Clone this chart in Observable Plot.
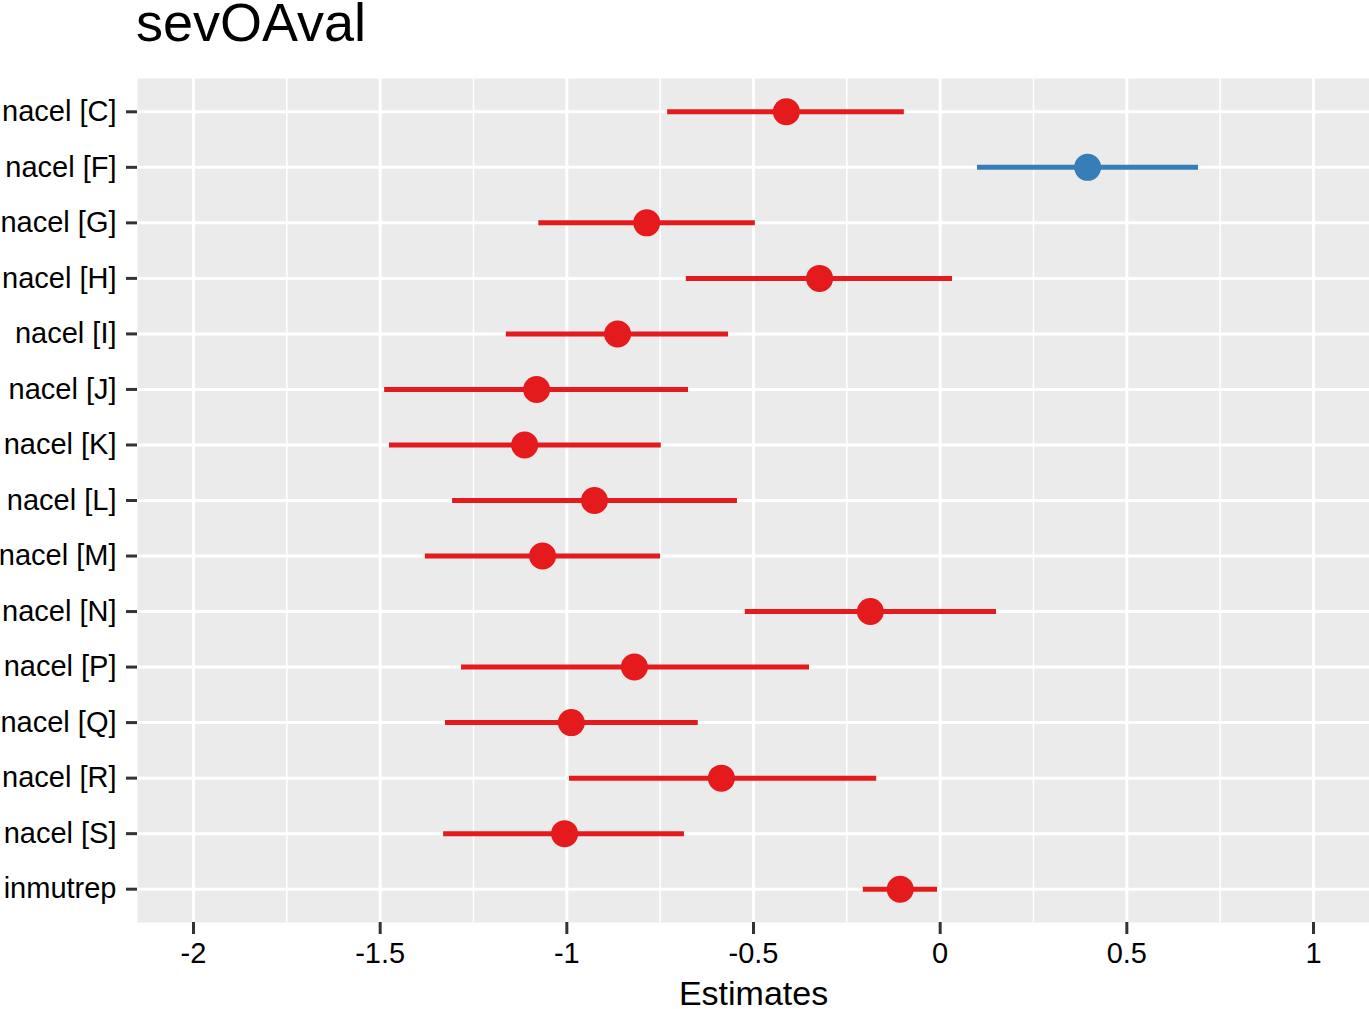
<!DOCTYPE html>
<html>
<head>
<meta charset="utf-8">
<script src="https://cdn.jsdelivr.net/npm/d3@7"></script>
<script src="https://cdn.jsdelivr.net/npm/@observablehq/plot@0.6"></script>
<style>
  html, body { margin: 0; padding: 0; background: #fff; }
  body { width: 1369px; height: 1009px; position: relative; overflow: hidden; font-family: "Liberation Sans", Arial, Helvetica, sans-serif; }
  #title { position: absolute; left: 136px; top: 1px; font-size: 54px; line-height: 43px; height: 50px; color: #000; white-space: nowrap; }
  #chart { position: absolute; left: 0; top: 0; }
</style>
</head>
<body>
<div id="title">sevOAval</div>
<div id="chart"></div>
<script>
const terms = ["nacel [C]", "nacel [F]", "nacel [G]", "nacel [H]", "nacel [I]", "nacel [J]", "nacel [K]", "nacel [L]", "nacel [M]", "nacel [N]", "nacel [P]", "nacel [Q]", "nacel [R]", "nacel [S]", "inmutrep"];
const estimates = [-0.412, 0.395, -0.786, -0.323, -0.864, -1.081, -1.113, -0.926, -1.065, -0.187, -0.819, -0.988, -0.586, -1.006, -0.107];
const lows  = [-0.730, 0.100, -1.075, -0.680, -1.162, -1.488, -1.475, -1.306, -1.379, -0.522, -1.282, -1.325, -0.993, -1.330, -0.206];
const highs = [-0.096, 0.692, -0.495, 0.033, -0.567, -0.674, -0.747, -0.543, -0.749, 0.151, -0.350, -0.648, -0.170, -0.685, -0.007];
const majorTicks = [-2, -1.5, -1, -0.5, 0, 0.5, 1];
const minorTicks = [-1.75, -1.25, -0.75, -0.25, 0.25, 0.75];
const colorDomain = ["negative", "positive"];
const colorRange = ["#E41A1C", "#377EB8"];

const data = terms.map((t, i) => ({
  term: t,
  est: estimates[i],
  low: lows[i],
  high: highs[i],
  dir: estimates[i] >= 0 ? "positive" : "negative"
}));

const plot = Plot.plot({
  width: 1369,
  height: 1009,
  marginLeft: 137,
  marginRight: 0,
  marginTop: 78,
  marginBottom: 87,
  style: { fontFamily: "'Liberation Sans', Arial, Helvetica, sans-serif", background: "transparent", overflow: "visible" },
  x: { domain: [-2.15, 1.15] },
  y: { type: "point", domain: terms, padding: 0.6, round: false },
  color: { domain: colorDomain, range: colorRange },
  marks: [
    Plot.frame({ fill: "#EBEBEB", stroke: null }),
    Plot.ruleX(minorTicks, { x: d => d, stroke: "#fff", strokeWidth: 1.5 }),
    Plot.ruleX(majorTicks, { x: d => d, stroke: "#fff", strokeWidth: 3 }),
    Plot.ruleY(terms, { y: d => d, stroke: "#fff", strokeWidth: 3 }),
    Plot.ruleY(data, { y: "term", x1: "low", x2: "high", stroke: "dir", strokeWidth: 5 }),
    Plot.dot(data, { x: "est", y: "term", r: 13.5, fill: "dir", stroke: null }),
    Plot.axisY({ tickSize: 11, tickPadding: 10, fontSize: 29, stroke: "#333", strokeWidth: 3, label: null, fill: "#000" }),
    Plot.axisX(majorTicks, { tickSize: 12, tickPadding: 8, fontSize: 29, stroke: "#333", strokeWidth: 3, label: null, tickFormat: d => String(d), fill: "#000" }),
    Plot.axisX({ ticks: [], tickSize: 0, label: "Estimates", labelAnchor: "center", labelArrow: "none", labelOffset: 82, fontSize: 34, fill: "#000" })
  ]
});
document.getElementById("chart").appendChild(plot);
</script>
</body>
</html>
